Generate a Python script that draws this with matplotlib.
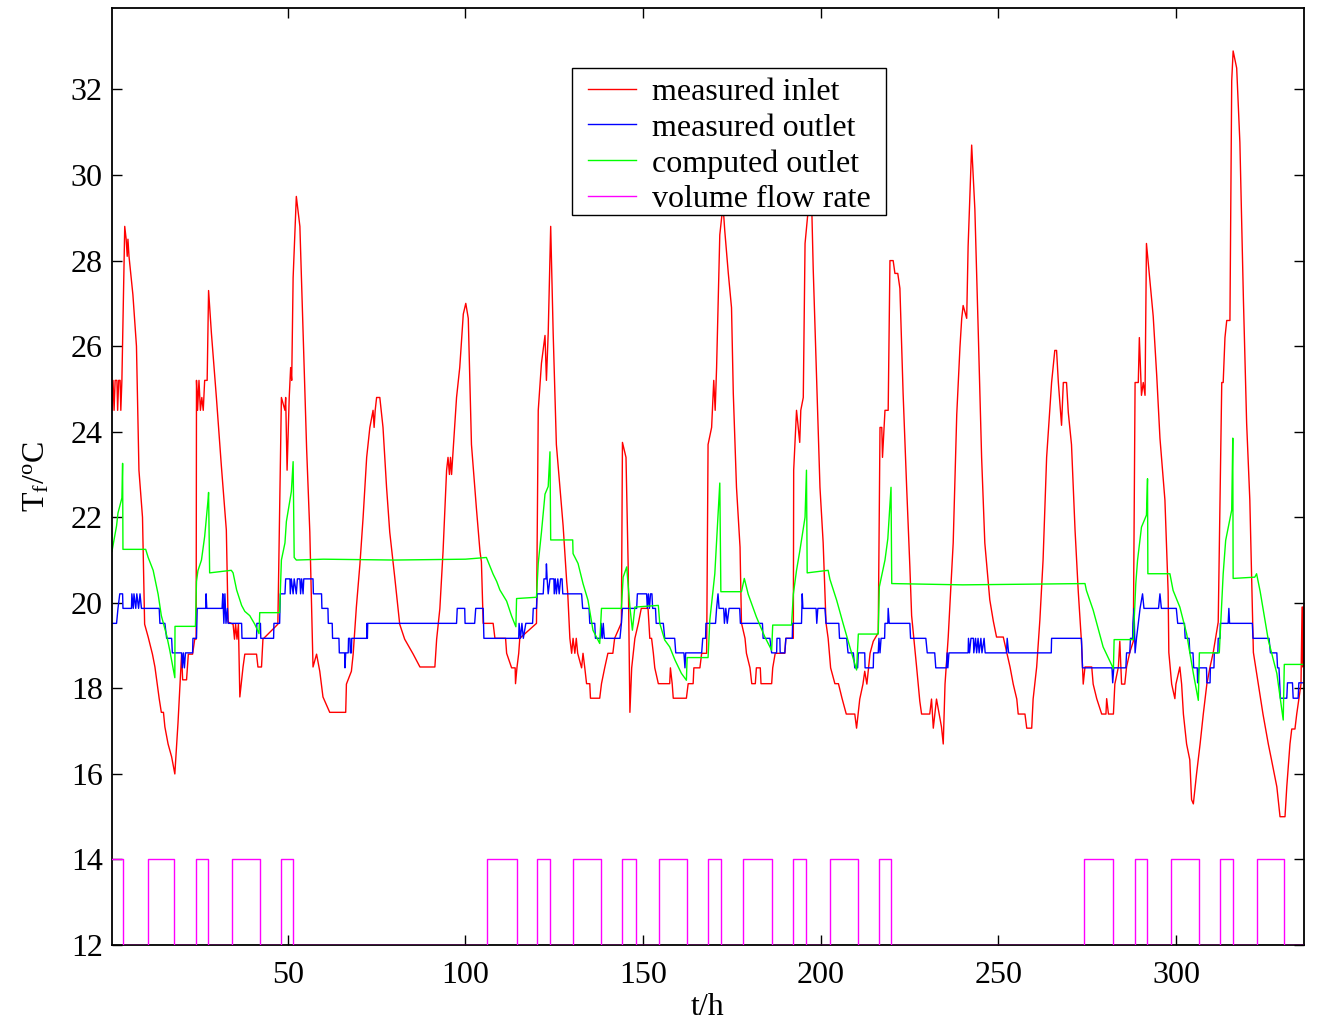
import numpy as np
import matplotlib
matplotlib.use("Agg")
import matplotlib.pyplot as plt
from matplotlib.patches import Rectangle

plt.rcParams['font.family'] = ['Liberation Serif', 'DejaVu Serif']
plt.rcParams['mathtext.fontset'] = 'custom'
plt.rcParams['mathtext.rm'] = 'Liberation Serif'
plt.rcParams['mathtext.it'] = 'Liberation Serif'
plt.rcParams['mathtext.default'] = 'regular'

# measured inlet temperature (t in h, T in degC)
inlet_t = [0.5, 0.8, 1.1, 1.4, 1.9, 2.1, 2.4, 2.8, 3.0, 3.3, 4.1, 4.5, 4.8, 5.0, 5.3, 6.4, 7.4, 8.1, 9.1, 9.7,
           10.7, 11.9, 12.6, 13.8, 14.4, 15.0, 15.4, 16.3, 17.3, 18.2, 19.1, 20.1, 20.4, 21.5, 22.0, 23.2, 23.8, 24.2,
           24.3, 24.6, 25.0, 25.4, 25.8, 26.2, 26.6, 27.3, 27.7, 28.5, 29.9, 31.3, 32.7, 33.2, 34.6, 35.0, 35.3, 35.7,
           36.1, 36.5, 37.4, 37.9, 41.2, 41.6, 42.6, 43.0, 47.2, 48.2, 49.2, 49.4, 49.8, 50.4, 50.8, 51.1, 51.5, 52.4,
           53.4, 54.3, 55.3, 56.2, 57.1, 58.1, 59.0, 59.9, 61.8, 66.3, 66.5, 67.9, 68.4, 69.3, 70.3, 71.2, 72.2, 73.1,
           74.0, 74.3, 74.6, 75.0, 75.9, 76.8, 77.8, 78.7, 80.1, 81.5, 82.9, 85.3, 87.2, 91.4, 91.9, 92.8, 93.7, 94.7,
           95.1, 95.5, 95.8, 96.1, 97.5, 98.4, 99.4, 100.1, 100.8, 101.7, 103.1, 104.1, 104.5, 105.0, 107.8, 108.3,
           111.3, 111.6, 113.0, 114.0, 114.1, 114.5, 115.0, 115.3, 120.0, 120.5, 121.4, 122.4, 122.8, 123.3, 124.0,
           124.7, 125.6, 126.6, 127.5, 128.5, 128.8, 129.4, 129.9, 130.3, 130.8, 131.2, 131.6, 132.7, 133.1, 133.6,
           134.1, 135.0, 135.2, 137.8, 138.3, 139.2, 140.1, 141.5, 142.0, 143.9, 144.2, 145.2, 145.8, 146.3, 146.8,
           147.7, 148.7, 149.5, 151.4, 151.9, 152.4, 152.9, 153.3, 154.3, 157.5, 157.7, 158.2, 158.5, 162.2, 162.7,
           164.1, 164.3, 166.0, 166.5, 167.9, 168.3, 169.3, 169.9, 170.3, 170.7, 171.6, 172.1, 172.5, 173.0, 174.0,
           174.9, 175.4, 176.3, 177.3, 177.7, 178.7, 179.1, 180.1, 180.6, 181.6, 181.9, 183.0, 183.2, 186.2, 186.5,
           187.2, 189.9, 190.2, 192.3, 192.4, 193.2, 194.1, 194.4, 195.1, 195.6, 196.5, 197.0, 197.5, 197.9, 198.8,
           199.8, 200.7, 201.5, 202.1, 202.8, 204.0, 205.0, 206.0, 207.2, 209.6, 210.1, 211.0, 211.9, 212.4, 213.0,
           213.9, 214.8, 216.2, 216.7, 217.2, 217.4, 218.1, 219.0, 219.5, 220.4, 220.9, 221.7, 222.3, 223.2, 224.2,
           225.1, 225.6, 227.0, 227.9, 228.4, 230.7, 231.2, 231.7, 232.6, 234.0, 234.5, 235.0, 235.9, 237.3, 238.3,
           239.2, 239.7, 240.1, 241.1, 241.5, 242.5, 243.4, 244.3, 245.3, 246.2, 247.6, 248.6, 249.5, 251.4, 253.3,
           254.2, 255.2, 255.6, 257.5, 258.0, 259.4, 259.8, 260.8, 261.7, 262.6, 263.6, 265.0, 265.9, 266.4, 266.9,
           267.8, 268.3, 269.2, 269.7, 270.6, 271.6, 272.5, 273.4, 273.9, 274.4, 276.3, 276.7, 277.7, 279.1, 280.3,
           280.5, 281.0, 282.4, 282.8, 283.8, 284.2, 284.7, 285.6, 286.1, 287.0, 288.0, 288.5, 289.4, 289.7, 290.3,
           290.8, 291.3, 291.7, 292.7, 293.6, 294.6, 295.5, 296.9, 297.8, 298.0, 298.8, 299.7, 300.0, 301.1, 301.6,
           302.1, 303.0, 303.9, 304.4, 304.9, 305.4, 305.8, 306.8, 307.7, 308.7, 309.6, 310.5, 311.9, 312.9, 313.3,
           313.8, 314.3, 315.2, 315.7, 316.1, 317.1, 318.0, 319.0, 319.9, 320.8, 321.8, 323.2, 324.5, 326.0, 326.9,
           328.4, 329.3, 330.7, 331.2, 332.1, 332.6, 333.5, 334.0, 335.2, 335.5, 335.7, 335.8]
inlet_T = [24.5, 25.2, 24.5, 25.2, 25.2, 24.5, 25.2, 25.2, 24.5, 25.2, 28.8, 28.5, 28.1, 28.5, 28.1, 27.2, 26.0, 23.1, 22.0, 19.5,
           19.2, 18.8, 18.5, 17.76, 17.44, 17.44, 17.1, 16.7, 16.4, 16.0, 17.2, 18.8, 18.2, 18.2, 18.8, 18.8, 19.15, 19.15,
           25.2, 24.5, 25.2, 24.5, 24.8, 24.5, 25.2, 25.2, 27.3, 26.3, 24.8, 23.2, 21.7, 19.55, 19.5, 19.15, 19.5, 19.15,
           19.5, 17.8, 18.5, 18.8, 18.8, 18.5, 18.5, 19.15, 19.5, 24.8, 24.5, 24.8, 23.1, 24.8, 25.5, 25.2, 27.6, 29.5,
           28.8, 26.3, 23.6, 21.65, 18.5, 18.8, 18.4, 17.8, 17.44, 17.44, 18.1, 18.4, 18.8, 19.9, 20.9, 22.0, 23.4, 24.1,
           24.5, 24.1, 24.5, 24.8, 24.8, 24.1, 22.7, 21.65, 20.6, 19.5, 19.15, 18.8, 18.5, 18.5, 19.15, 19.86, 21.2, 23.1,
           23.4, 23.0, 23.4, 23.0, 24.8, 25.5, 26.75, 27.0, 26.65, 23.7, 22.2, 21.2, 20.96, 19.52, 19.52, 19.17,
           19.17, 18.82, 18.48, 18.48, 18.11, 18.48, 18.82, 19.17, 19.52, 24.5, 25.6, 26.25, 25.2, 26.3, 28.8,
           26.3, 23.7, 22.7, 21.8, 20.5, 20.22, 19.17, 18.82, 19.17, 18.82, 19.17, 18.82, 18.48, 18.82, 18.48,
           18.11, 18.11, 17.77, 17.77, 18.11, 18.48, 18.82, 18.82, 19.17, 19.53, 23.75, 23.4, 20.9, 17.44, 18.48,
           19.17, 19.53, 19.87, 19.87, 19.17, 19.17, 18.82, 18.48, 18.11, 18.11, 18.48, 18.11, 17.77, 17.77, 18.11,
           18.11, 18.48, 18.48, 18.82, 18.82, 23.7, 24.1, 25.2, 24.5, 25.5, 28.6, 29.0, 29.3, 28.7, 27.7,
           26.9, 24.9, 22.7, 21.3, 19.53, 19.17, 18.82, 18.48, 18.11, 18.11, 18.48, 18.48, 18.11, 18.11, 18.48,
           18.82, 18.82, 19.17, 19.17, 23.1, 24.5, 23.75, 24.5, 24.8, 28.4, 29.2, 30.0, 29.2, 27.8, 25.4,
           22.7, 21.4, 19.53, 19.17, 18.48, 18.11, 18.11, 17.77, 17.4, 17.4, 17.07, 17.75, 18.1, 18.4, 18.1,
           18.82, 19.1, 19.3, 24.1, 24.1, 23.4, 24.5, 24.5, 28.0, 28.0, 27.7, 27.7, 27.35, 24.9, 22.7,
           20.85, 19.7, 18.5, 17.7, 17.4, 17.4, 17.75, 17.07, 17.75, 17.1, 16.7, 18.1, 19.2, 21.4, 24.4,
           25.97, 26.65, 26.95, 26.65, 28.33, 30.7, 29.2, 26.5, 23.4, 21.4, 20.07, 19.57, 19.2, 19.2, 18.5,
           18.1, 17.75, 17.4, 17.4, 17.07, 17.07, 17.75, 18.5, 19.6, 21.0, 23.4, 25.15, 25.9, 25.9, 25.15,
           24.15, 25.15, 25.15, 24.45, 23.7, 21.7, 20.27, 19.1, 18.1, 18.5, 18.5, 18.1, 17.76, 17.4, 17.4,
           17.76, 17.4, 17.4, 18.1, 18.5, 19.1, 18.1, 18.1, 18.5, 18.84, 19.1, 25.15, 25.15, 26.2, 24.85,
           25.15, 24.85, 28.4, 27.5, 26.7, 25.3, 23.85, 22.4, 20.27, 18.84, 18.1, 17.76, 18.1, 18.5, 18.1,
           17.4, 16.7, 16.33, 15.4, 15.3, 15.7, 16.0, 16.7, 17.4, 18.1, 18.5, 18.84, 19.55, 25.15, 25.15,
           26.2, 26.6, 26.6, 32.2, 32.9, 32.5, 30.76, 27.07, 24.2, 22.4, 18.84, 18.1, 17.4, 16.7, 16.33,
           15.7, 15.0, 15.0, 15.7, 16.7, 17.05, 17.05, 17.4, 18.1, 19.9, 18.5, 19.9]

# measured outlet temperature
outlet_t = [0.5, 1.8, 2.2, 2.7, 3.5, 3.6, 6.0, 6.1, 6.5, 6.7, 7.2, 7.5, 8.0, 8.4, 8.8, 13.8, 14.0, 15.4, 15.9, 17.3,
            17.5, 20.1, 20.3, 20.6, 20.9, 21.2, 23.2, 23.3, 24.3, 24.5, 26.9, 27.0, 27.2, 31.5, 31.7, 32.0, 32.3,
            32.6, 33.0, 33.2, 37.0, 37.1, 41.2, 41.3, 42.3, 42.4, 46.0, 46.1, 47.7, 47.9, 49.2, 49.4, 50.6, 50.7,
            51.0, 51.5, 51.8, 52.4, 52.7, 53.4, 53.6, 53.9, 54.3, 54.5, 57.1, 57.2, 59.5, 59.6, 61.3, 61.4, 62.5,
            62.6, 64.4, 64.5, 66.0, 66.1, 66.3, 67.0, 67.1, 67.5, 67.6, 67.9, 68.0, 72.2, 72.3, 72.4, 72.5, 97.5,
            97.7, 99.8, 99.9, 102.6, 102.9, 105.0, 105.2, 115.0, 115.1, 115.5, 115.9, 116.3, 117.0, 118.9, 119.1,
            120.0, 120.2, 121.9, 122.1, 122.7, 122.8, 123.0, 123.3, 123.8, 124.9, 125.0, 125.3, 125.6, 126.0, 126.4,
            126.8, 127.2, 127.4, 132.7, 133.0, 134.8, 135.0, 136.4, 136.6, 138.0, 138.2, 138.5, 138.8, 139.1, 143.5,
            143.9, 144.2, 148.2, 148.4, 151.0, 151.2, 151.5, 151.8, 152.1, 152.5, 152.7, 153.5, 153.7, 155.7, 156.1,
            158.9, 159.2, 161.5, 161.8, 162.0, 166.5, 166.8, 167.6, 167.7, 170.4, 170.7, 171.1, 171.4, 172.7, 172.9,
            173.3, 173.7, 174.2, 177.2, 177.4, 183.6, 183.8, 185.7, 186.2, 187.6, 187.7, 188.5, 188.6, 189.9, 190.2,
            192.0, 192.1, 194.6, 194.8, 195.0, 198.7, 198.9, 199.2, 201.2, 201.5, 205.1, 205.3, 207.3, 207.7, 209.2,
            209.6, 210.4, 210.6, 212.4, 212.5, 214.8, 214.9, 216.2, 216.4, 216.7, 217.0, 218.0, 218.1, 218.9, 219.0,
            219.3, 225.1, 225.3, 229.6, 230.0, 232.1, 232.4, 235.4, 235.6, 235.8, 236.1, 241.5, 241.6, 241.9, 242.3,
            243.0, 243.1, 243.6, 243.9, 244.3, 244.6, 245.1, 245.4, 246.0, 246.3, 252.3, 252.5, 252.9, 264.9, 265.0,
            273.4, 273.7, 282.0, 282.2, 282.5, 285.9, 286.1, 287.0, 287.2, 287.8, 287.9, 288.2, 288.5, 288.9, 289.4,
            289.9, 290.6, 291.0, 295.1, 295.5, 295.9, 300.1, 300.5, 302.4, 302.6, 303.7, 303.9, 304.8, 305.0, 306.0,
            306.1, 306.5, 308.6, 308.7, 309.6, 309.7, 310.7, 310.8, 311.8, 311.9, 312.4, 312.5, 314.7, 314.9, 315.1,
            321.5, 321.7, 326.2, 326.6, 328.4, 328.6, 329.0, 329.2, 329.4, 331.2, 331.4, 332.8, 333.0, 334.4, 334.6,
            335.8]
outlet_T = [19.52, 19.52, 19.87, 20.21, 20.21, 19.87, 19.87, 20.21, 19.87, 20.21, 19.87, 20.21, 19.87, 20.21, 19.87, 19.87, 19.52, 19.52, 19.17, 19.17,
            18.83, 18.83, 18.48, 18.83, 18.48, 18.83, 18.83, 19.17, 19.17, 19.87, 19.87, 20.21, 19.87, 19.87, 20.21, 19.52, 20.21,
            19.52, 19.87, 19.52, 19.52, 19.17, 19.17, 19.52, 19.52, 19.17, 19.17, 19.52, 19.52, 20.21, 20.21, 20.56, 20.56, 20.21,
            20.56, 20.21, 20.56, 20.21, 20.56, 20.56, 20.21, 20.56, 20.21, 20.56, 20.56, 20.21, 20.21, 19.87, 19.87, 19.52, 19.52,
            19.17, 19.17, 18.83, 18.83, 18.48, 18.83, 18.83, 19.17, 19.17, 18.83, 18.83, 19.17, 19.17, 19.52, 19.17, 19.52, 19.52,
            19.87, 19.87, 19.52, 19.52, 19.87, 19.87, 19.17, 19.17, 19.52, 19.17, 19.52, 19.17, 19.52, 19.52, 19.87,
            19.87, 20.21, 20.21, 20.56, 20.56, 20.91, 20.56, 20.21, 20.56, 20.56, 20.21, 20.56, 20.21, 20.56, 20.21,
            20.56, 20.56, 20.21, 20.21, 19.87, 19.87, 19.52, 19.52, 19.17, 19.17, 19.52, 19.17, 19.52, 19.17, 19.17,
            19.52, 19.87, 19.87, 20.21, 20.21, 19.87, 20.21, 19.87, 20.21, 20.21, 19.87, 19.87, 19.52, 19.52, 19.17,
            19.17, 18.83, 18.83, 18.48, 18.83, 18.83, 19.17, 19.17, 19.52, 19.52, 19.87, 20.21, 19.87, 19.87, 19.52,
            19.87, 19.52, 19.87, 19.87, 19.52, 19.52, 19.17, 19.17, 18.83, 18.83, 19.17, 19.17, 18.83, 18.83, 19.17,
            19.17, 19.52, 19.52, 20.21, 19.87, 19.87, 19.52, 19.87, 19.87, 19.52, 19.52, 19.17, 19.17, 18.83, 18.83,
            18.48, 18.48, 18.83, 18.83, 18.48, 18.48, 18.83, 18.83, 19.17, 18.83, 19.17, 19.17, 19.52, 19.52, 19.87,
            19.52, 19.52, 19.17, 19.17, 18.83, 18.83, 18.48, 18.48, 18.83, 18.48, 18.83, 18.83, 19.17, 18.83, 19.17,
            19.17, 18.83, 19.17, 18.83, 19.17, 18.83, 19.17, 18.83, 19.17, 18.83, 18.83, 19.17, 18.83, 18.83, 19.17,
            19.17, 18.48, 18.48, 18.13, 18.48, 18.48, 18.83, 18.83, 19.17, 19.17, 19.52, 19.87, 18.83, 19.17, 19.52,
            19.87, 20.21, 19.87, 19.87, 20.21, 19.87, 19.87, 19.52, 19.52, 19.17, 19.17, 18.83, 18.83, 18.48, 18.48,
            18.13, 18.48, 18.48, 18.13, 18.13, 18.48, 18.48, 18.83, 18.83, 19.17, 19.17, 19.52, 19.52, 19.87, 19.52,
            19.52, 19.17, 19.17, 18.83, 18.83, 18.48, 18.48, 18.13, 17.77, 17.77, 18.13, 18.13, 17.77, 17.77, 18.13,
            18.13]

# computed outlet temperature
computed_t = [0.5, 1.8, 2.2, 3.3, 3.5, 3.6, 10.0, 10.7, 12.1, 13.5, 14.4, 15.9, 16.8, 18.2, 18.25, 24.0, 24.3, 24.7,
              25.7, 26.6, 27.6, 27.7, 28.0, 34.1, 34.6, 35.6, 37.0, 37.9, 39.3, 40.7, 41.9, 42.1, 47.7, 48.2, 49.2,
              49.6, 51.0, 51.5, 51.8, 52.4, 60.0, 80.0, 100.0, 105.9, 107.8, 108.8, 109.7, 111.6, 113.0, 114.2, 114.4,
              120.0, 120.5, 121.4, 122.4, 123.3, 123.8, 124.0, 130.2, 130.3, 131.7, 133.1, 134.5, 135.9, 137.8, 138.3,
              143.9, 144.4, 145.4, 146.3, 147.0, 147.7, 154.3, 154.7, 156.1, 157.5, 159.0, 160.8, 162.2, 162.4, 168.3,
              168.8, 170.2, 171.6, 171.9, 177.7, 178.5, 179.6, 181.9, 184.3, 186.2, 186.5, 191.8, 192.3, 193.2, 194.1,
              195.6, 196.0, 196.2, 202.1, 202.6, 204.5, 206.3, 208.2, 210.1, 210.6, 216.2, 216.5, 218.1, 218.9, 219.8,
              220.0, 240.0, 274.4, 274.8, 276.7, 279.5, 282.4, 282.6, 288.0, 288.7, 289.2, 290.3, 291.7, 292.0, 292.1,
              298.3, 299.2, 301.1, 303.0, 304.9, 306.3, 306.6, 312.2, 313.3, 314.0, 315.7, 316.0, 316.1, 322.2, 322.7,
              323.7, 326.0, 328.4, 330.2, 330.5, 335.8]
computed_T = [21.2, 21.8, 22.1, 22.45, 23.26, 21.25, 21.25, 21.06, 20.76, 20.2, 19.7, 19.24, 18.88, 18.25, 19.45, 19.45, 20.5, 20.75,
              21.0, 21.55, 22.45, 22.58, 20.7, 20.76, 20.7, 20.3, 19.94, 19.8, 19.7, 19.5, 19.28, 19.77, 19.77, 21.0, 21.4,
              21.9, 22.6, 23.3, 21.06, 21.0, 21.02, 21.0, 21.02, 21.06, 20.67, 20.5, 20.3, 20.04, 19.69, 19.44, 20.1,
              20.13, 20.93, 21.65, 22.54, 22.72, 23.53, 21.47, 21.47, 21.15, 20.92, 20.45, 20.06, 19.36, 19.05, 19.87,
              19.87, 20.6, 20.84, 19.9, 19.36, 19.9, 19.94, 19.52, 19.13, 18.97, 18.66, 18.35, 18.19, 18.72, 18.72,
              19.6, 20.68, 22.8, 20.26, 20.26, 20.57, 20.2, 19.67, 19.2, 18.89, 19.48, 19.48, 20.2, 20.76, 21.2,
              22.0, 23.1, 20.7, 20.76, 20.55, 20.06, 19.52, 18.97, 18.43, 19.27, 19.27, 20.37, 21.0, 21.5, 22.7,
              20.45, 20.42, 20.45, 20.29, 19.83, 18.97, 18.46, 19.14, 19.14, 20.45, 21.0, 21.77, 22.05, 22.9, 20.68,
              20.68, 20.29, 19.9, 19.28, 18.35, 17.72, 18.83, 18.83, 20.68, 21.46, 22.17, 23.85, 20.57, 20.6, 20.68,
              20.27, 19.13, 18.35, 17.26, 18.56, 18.56]

# volume flow rate (on/off switching, drawn between 12 and 14)
flow_t = [0.5, 3.6, 10.6, 18.0, 24.2, 27.5, 34.2, 42.1, 48.0, 51.5, 106.1, 114.5, 120.1, 123.8, 130.4, 138.1,
          144.2, 147.9, 154.4, 162.3, 168.2, 171.9, 178.1, 186.4, 192.3, 196.0, 202.5, 210.4, 216.3, 219.8,
          274.2, 282.3, 288.5, 291.9, 298.7, 306.6, 312.5, 316.0, 322.7, 330.4, 336.0]
flow_val = [14, 12] * 20 + [12]

fig = plt.figure(figsize=(13.17, 10.25), dpi=100)
ax = fig.add_axes([0.085, 0.078, 0.905, 0.914])

ax.plot(inlet_t, inlet_T, color='#ff0000', lw=1.0, label='measured inlet')
ax.plot(outlet_t, outlet_T, color='#0000ff', lw=1.0, label='measured outlet')
ax.plot(computed_t, computed_T, color='#00ff00', lw=1.0, label='computed outlet')
ax.plot(flow_t, flow_val, color='#ff00ff', lw=1.0, drawstyle='steps-post', label='volume flow rate', zorder=3)

ax.set_xlim(0.5, 336)
ax.set_ylim(12, 33.9)
ax.set_xticks([50, 100, 150, 200, 250, 300])
ax.set_yticks(np.arange(12, 33, 2))
ax.tick_params(direction='in', length=7.5, width=1.0, top=True, right=True, labelsize=23)
ax.tick_params(axis='x', pad=11.5)
ax.tick_params(axis='y', pad=6.5)
for s in ax.spines.values():
    s.set_linewidth(1.3)

ax.set_xlabel('t/h', fontsize=23, labelpad=2)
ax.set_ylabel(r'T$_f$/$^o$C', fontsize=23, labelpad=14)

# legend box drawn separately so its padding matches the original
ax.add_patch(Rectangle((0.386, 0.779), 0.2634, 0.157, transform=ax.transAxes,
                       facecolor='white', edgecolor='black', lw=1.0, zorder=4.5))
leg = ax.legend(loc='upper left', bbox_to_anchor=(0.3993, 0.926), borderaxespad=0, fontsize=23,
                frameon=False, handlelength=1.5, handletextpad=0.5, labelspacing=0.2, borderpad=0)
leg.set_zorder(5)

fig.savefig('out.png', dpi=100)
